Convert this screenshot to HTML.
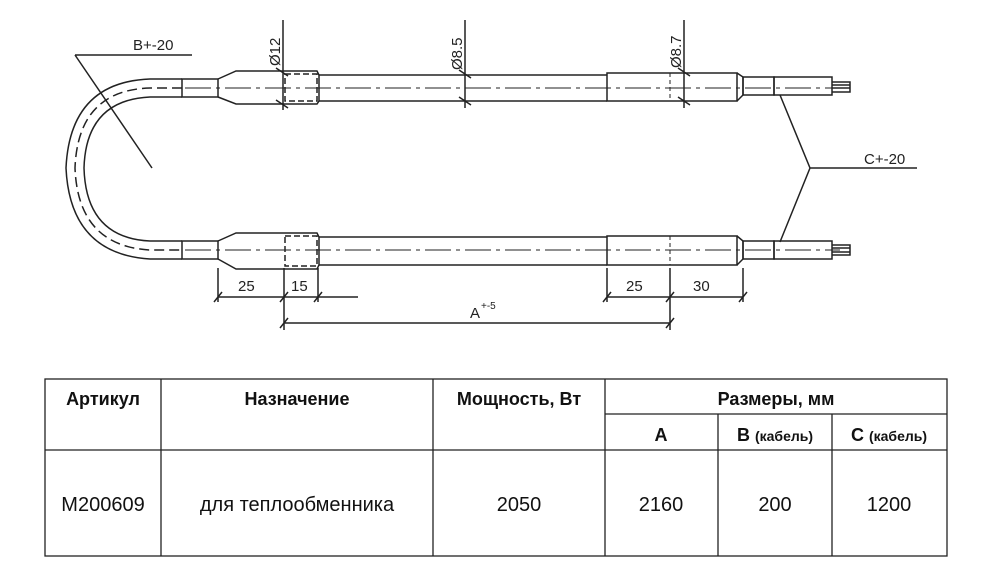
<!DOCTYPE html>
<html><head><meta charset="utf-8"><style>
html,body{margin:0;padding:0;background:#fff;width:1000px;height:587px;overflow:hidden}
svg{display:block}
.d{font-family:"Liberation Sans",sans-serif;font-size:15px;fill:#222}
.h{font-family:"Liberation Sans","DejaVu Sans",sans-serif;font-weight:bold;font-size:18px;fill:#111}
.t{font-family:"Liberation Sans","DejaVu Sans",sans-serif;font-size:20px;fill:#111}
</style></head><body>
<svg width="1000" height="587" viewBox="0 0 1000 587">
<g fill="none" stroke="#222" stroke-width="1.5">
<path d="M182 79 L150 79 Q70 82 66 168 Q70 254 150 259 L182 259"/>
<path d="M182 97 L150 97 Q86 100 84 168 Q86 238 150 241 L182 241"/>
<path d="M182 88 L150 88 Q78 90 75 168 Q78 246 150 250 L182 250" stroke-dasharray="10 5"/>
<rect x="182" y="79" width="36" height="18"/>
<path d="M218 79 L236 71 L317 71 L319 75 L319 101 L317 104 L236 104 L218 97"/>
<rect x="285" y="74" width="32" height="27" stroke-dasharray="6 3"/>
<path d="M319 75 H607 M319 101 H607"/>
<rect x="607" y="73" width="130" height="28"/>
<path d="M737 73 L743 77 L743 95 L737 101"/>
<rect x="743" y="77" width="31" height="18"/>
<rect x="774" y="77" width="58" height="18"/>
<path d="M832 82 H850 V92 H832 M832 85 H850 M832 88 H850"/>
<rect x="182" y="241" width="36" height="18"/>
<path d="M218 241 L236 233 L317 233 L319 237 L319 265 L317 269 L236 269 L218 259"/>
<rect x="285" y="236" width="32" height="30" stroke-dasharray="6 3"/>
<path d="M319 237 H607 M319 265 H607"/>
<rect x="607" y="236" width="130" height="29"/>
<path d="M737 236 L743 241 L743 259 L737 265"/>
<rect x="743" y="241" width="31" height="18"/>
<rect x="774" y="241" width="58" height="18"/>
<path d="M832 245 H850 V255 H832 M832 248 H850 M832 252 H850"/>
<path d="M185 88 H840 M185 250 H840" stroke-width="1.1" stroke-dasharray="26 5 4 5"/>
<path d="M670 73 V101 M670 236 V265" stroke-width="1" stroke-dasharray="4 3"/>
<path d="M283 20 V110 M276 68 L288 76 M276 100 L288 108"/>
<path d="M465 20 V108 M459 70 L471 78 M459 97 L471 105"/>
<path d="M684 20 V108 M678 68 L690 76 M678 97 L690 105"/>
<path d="M75 55 H192 M75 55 L152 168"/>
<path d="M780 95 L810 168 L780 242 M810 168 H917"/>
<path d="M218 268 V302 M284 268 V330 M318 268 V302 M218 297 H358"/>
<path d="M214 302 L222 292 M280 302 L288 292 M314 302 L322 292"/>
<path d="M284 323 H670 M280 328 L288 318 M666 328 L674 318"/>
<path d="M607 268 V302 M670 268 V330 M743 268 V302 M607 297 H743"/>
<path d="M603 302 L611 292 M666 302 L674 292 M739 302 L747 292"/>
</g>
<text class="d" x="133" y="50">B+-20</text>
<text class="d" x="864" y="164">C+-20</text>
<text class="d" x="238" y="291">25</text>
<text class="d" x="291" y="291">15</text>
<text class="d" x="626" y="291">25</text>
<text class="d" x="693" y="291">30</text>
<text class="d" x="470" y="318">A</text><text class="d" x="481" y="309" style="font-size:10px">+-5</text>
<text class="d" transform="translate(280,66) rotate(-90)">Ø12</text>
<text class="d" transform="translate(462,70) rotate(-90)">Ø8.5</text>
<text class="d" transform="translate(681,68) rotate(-90)">Ø8.7</text>
<g stroke="#222" stroke-width="1.3" fill="none">
<rect x="45" y="379" width="902" height="177"/>
<path d="M45 450 H947 M605 414 H947 M161 379 V556 M433 379 V556 M605 379 V556 M718 414 V556 M832 414 V556"/>
</g>
<g text-anchor="middle">
<text class="h" x="103" y="405">Артикул</text>
<text class="h" x="297" y="405">Назначение</text>
<text class="h" x="519" y="405">Мощность, Вт</text>
<text class="h" x="776" y="405">Размеры, мм</text>
<text class="h" x="661" y="441">A</text>
<text class="h" x="775" y="441">B <tspan style="font-size:14px">(кабель)</tspan></text>
<text class="h" x="889" y="441">C <tspan style="font-size:14px">(кабель)</tspan></text>
<text class="t" x="103" y="511">M200609</text>
<text class="t" x="297" y="511">для теплообменника</text>
<text class="t" x="519" y="511">2050</text>
<text class="t" x="661" y="511">2160</text>
<text class="t" x="775" y="511">200</text>
<text class="t" x="889" y="511">1200</text>
</g>
</svg>
</body></html>
